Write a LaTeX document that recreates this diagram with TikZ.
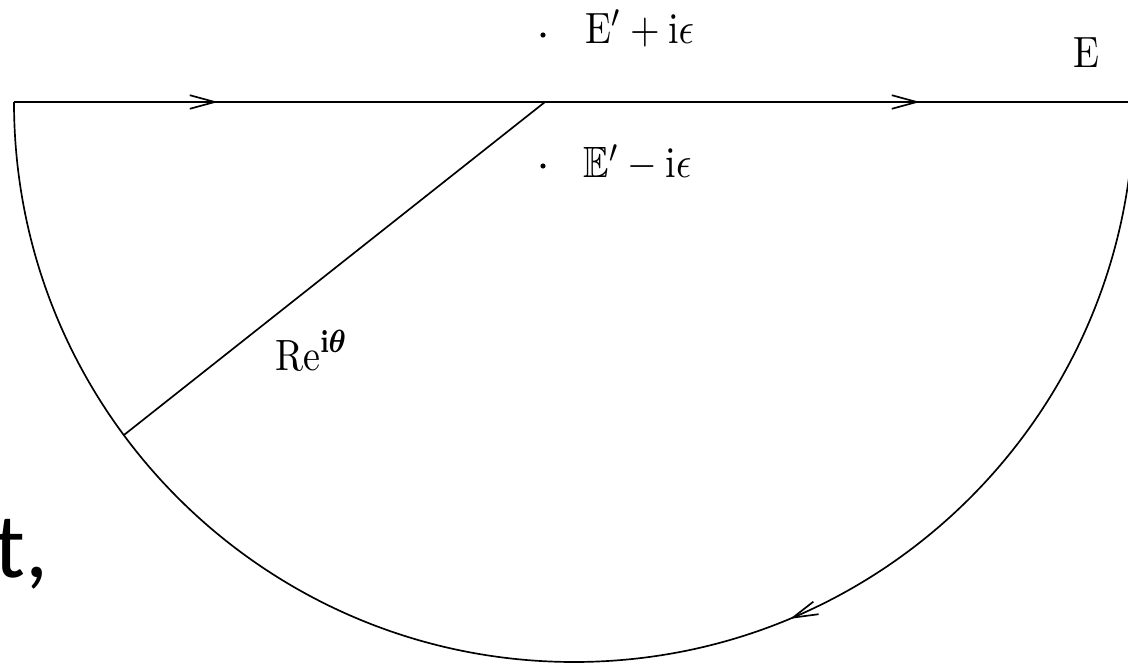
\documentclass[tikz,border=0pt]{standalone}
\usepackage{fontspec}
\usepackage{amssymb,bm}
\usetikzlibrary{arrows.meta,decorations.markings}
\newfontfamily\carlito{Carlito}
\begin{document}
\begin{tikzpicture}[x=0.25pt,y=0.25pt, line width=0.42pt,
  barb/.style={-{Straight Barb[length=6.25pt,width=3.4pt]}},
  lbl/.style={anchor=base west, inner sep=0pt, font=\fontsize{10.95}{13}\selectfont},
  dotmark/.style={fill=black}]
\useasboundingbox (0,0) rectangle (1128,666);
\clip (0,0) rectangle (1128,666);
\coordinate (C) at (574,564);
\coordinate (L) at (14,564);
\coordinate (Rt) at (1140,564);
\coordinate (O) at (545,564);
\coordinate (A1) at (218,564);
\coordinate (A2) at (920,564);
\path (C) ++(-143.5:560) coordinate (P);
\path (C) ++(0:560) coordinate (S);
% real axis
\draw (L) -- (Rt);
\draw[barb] (L) -- (A1);
\draw[barb] (L) -- (A2);
% semicircle
\draw[postaction={decorate}, decoration={markings, mark=at position 0.374 with {\arrow{Straight Barb[length=6.25pt,width=3.4pt]}}}]
  (S) arc[start angle=0, end angle=-180, radius=560];
% radial line
\draw (O) -- (P);
% poles
\coordinate (D1) at (543,631);
\coordinate (D2) at (543,500);
\fill[dotmark] (D1) circle[radius=2.6];
\fill[dotmark] (D2) circle[radius=2.6];
% labels
\node[lbl] (t1) at (585,623) {\scalebox{0.87}[1]{$\mathrm{E}'+\mathrm{i}\epsilon$}};
\node[lbl] (t2) at (583,488) {\scalebox{0.87}[1]{$\mathbb{E}'-\mathrm{i}\epsilon$}};
\node[lbl] (t3) at (1073,599) {\scalebox{0.87}[1]{$\mathrm{E}$}};
\node[lbl] (t4) at (275,296) {\scalebox{0.87}[1]{$\mathrm{Re}^{\mathbf{i}\bm{\theta}}$}};
\node[anchor=base west, inner sep=0pt, font=\carlito\fontsize{23}{27}\selectfont] (t5) at (-6,89) {t,};
\end{tikzpicture}
\end{document}
